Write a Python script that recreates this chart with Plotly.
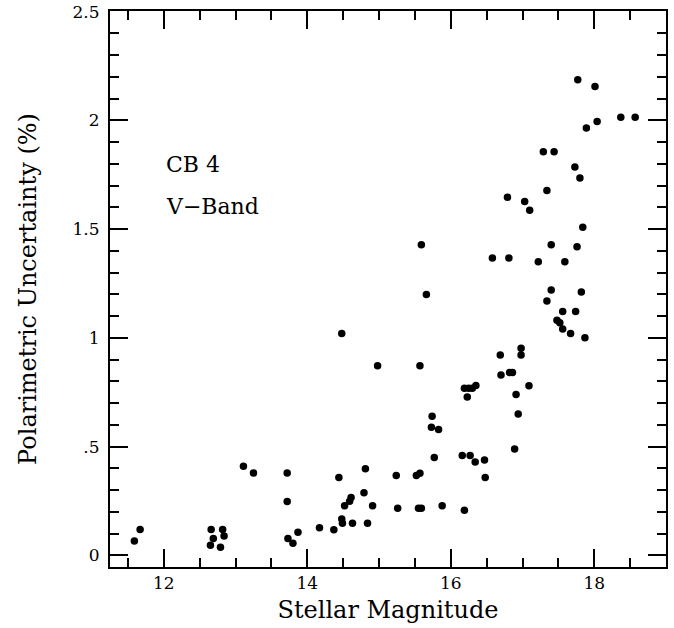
import plotly.graph_objects as go

# Stellar magnitude (V) of each star
magnitude = [
    11.59, 11.67, 12.66, 12.69, 12.65, 12.79, 12.82, 12.84, 13.11, 13.25,
    13.72, 13.72, 13.73, 13.80, 13.87, 14.17, 14.37, 14.44, 14.48, 14.49,
    14.52, 14.59, 14.61, 14.63, 14.79, 14.81, 14.84, 14.91, 15.24, 15.26,
    14.98, 14.48, 15.57, 15.52, 15.57, 15.55, 15.59, 15.88, 16.19, 15.74,
    15.73, 15.83, 15.77, 16.16, 16.27, 16.34, 16.47, 16.48, 16.89, 16.19,
    16.25, 16.30, 16.35, 16.23, 16.91, 16.94, 16.69, 16.98, 16.98, 16.70,
    16.82, 16.86, 17.09, 17.77, 18.01, 18.37, 18.57, 18.04, 17.89, 17.29,
    17.44, 17.73, 17.80, 17.34, 16.79, 17.03, 17.10, 17.84, 15.59, 17.40,
    17.76, 16.58, 16.81, 17.22, 17.59, 15.66, 17.40, 17.82, 17.34, 17.56,
    17.74, 17.48, 17.52, 17.56, 17.67, 17.87,
]

# Polarimetric uncertainty (%)
uncertainty = [
    0.067, 0.119, 0.119, 0.078, 0.047, 0.038, 0.119, 0.089, 0.410, 0.379,
    0.379, 0.248, 0.078, 0.056, 0.107, 0.128, 0.118, 0.359, 0.168, 0.148,
    0.228, 0.249, 0.267, 0.148, 0.288, 0.399, 0.148, 0.228, 0.368, 0.217,
    0.872, 1.020, 0.872, 0.368, 0.378, 0.217, 0.217, 0.228, 0.208, 0.640,
    0.590, 0.579, 0.450, 0.460, 0.460, 0.430, 0.439, 0.359, 0.489, 0.769,
    0.769, 0.769, 0.781, 0.728, 0.740, 0.650, 0.922, 0.953, 0.922, 0.830,
    0.841, 0.841, 0.780, 2.187, 2.156, 2.015, 2.015, 1.995, 1.965, 1.856,
    1.856, 1.786, 1.735, 1.678, 1.647, 1.627, 1.587, 1.509, 1.428, 1.428,
    1.419, 1.368, 1.368, 1.350, 1.350, 1.200, 1.220, 1.211, 1.170, 1.122,
    1.122, 1.081, 1.070, 1.041, 1.020, 1.001,
]

x_tick_vals = [12, 14, 16, 18]
x_tick_text = ["12", "14", "16", "18"]
y_tick_vals = [0, 0.5, 1, 1.5, 2, 2.5]
y_tick_text = ["0", ".5", "1", "1.5", "2", "2.5"]

FONT = "DejaVu Serif"

fig = go.Figure()
fig.add_trace(go.Scatter(
    x=magnitude, y=uncertainty, mode="markers",
    marker=dict(symbol="circle", size=7.5, color="black", line=dict(width=0)),
    showlegend=False, hoverinfo="x+y",
))

axis_common = dict(
    showline=True, linewidth=2, linecolor="black", mirror="ticks",
    ticks="inside", ticklen=18, tickwidth=1.5, tickcolor="black",
    showgrid=False, zeroline=False,
    tickfont=dict(family=FONT, size=17, color="black"),
    ticklabeloverflow="allow",
)

fig.update_xaxes(
    range=[11.25, 19.0], tickmode="array",
    tickvals=x_tick_vals, ticktext=x_tick_text,
    minor=dict(tickmode="linear", tick0=0, dtick=0.5, ticks="inside",
               ticklen=9, tickwidth=1.5, tickcolor="black", showgrid=False),
    title=dict(text="Stellar Magnitude", font=dict(family=FONT, size=24, color="black"),
               standoff=9),
    ticklabelstandoff=0,
    **axis_common,
)
fig.update_yaxes(
    range=[-0.053, 2.503], tickmode="array",
    tickvals=y_tick_vals, ticktext=y_tick_text,
    minor=dict(tickmode="linear", tick0=0, dtick=0.1, ticks="inside",
               ticklen=9, tickwidth=1.5, tickcolor="black", showgrid=False),
    title=dict(text="Polarimetric Uncertainty (%)",
               font=dict(family=FONT, size=24, color="black"), standoff=29),
    ticklabelstandoff=5,
    **axis_common,
)

fig.add_annotation(text="CB 4", xref="paper", yref="paper", x=0.097, y=0.7247,
                   xanchor="left", yanchor="middle", showarrow=False,
                   font=dict(family=FONT, size=22, color="black"))
fig.add_annotation(text="V\u2212Band", xref="paper", yref="paper", x=0.097, y=0.649,
                   xanchor="left", yanchor="middle", showarrow=False,
                   font=dict(family=FONT, size=22, color="black"))

fig.update_layout(
    width=674, height=628,
    margin=dict(l=110, r=8, t=11, b=61, autoexpand=False),
    paper_bgcolor="white", plot_bgcolor="white",
    font=dict(family=FONT, color="black"),
)

# remove the default 8px page margin so the figure fills the window exactly
fig.write_html("out.html", config={"displayModeBar": False},
               post_script="document.body.style.margin='0';")
